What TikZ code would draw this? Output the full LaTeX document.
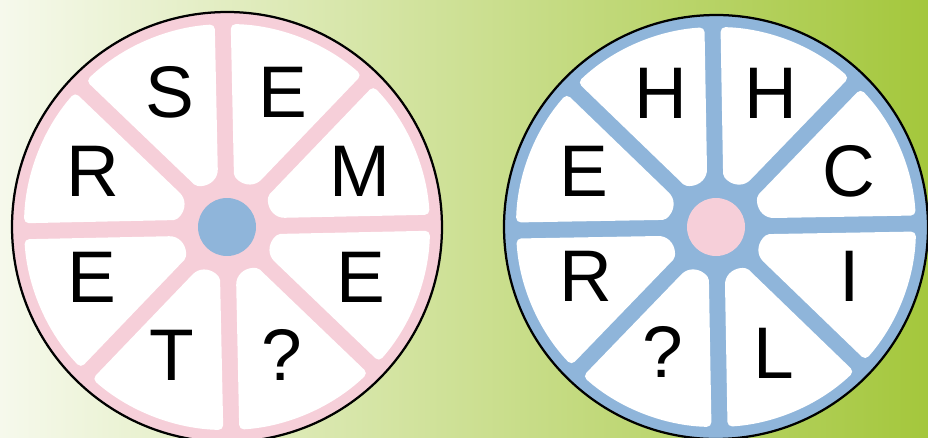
\documentclass[tikz,border=0pt]{standalone}
\usepackage{fontspec}
\setmainfont{Liberation Sans}
\usetikzlibrary{positioning}
\definecolor{wheelpink}{HTML}{F6CFD9}
\definecolor{wheelblue}{HTML}{8FB5DA}
\definecolor{bgleft}{HTML}{F6F9EC}
\definecolor{bgmid}{HTML}{D6E6A6}
\definecolor{bgright}{HTML}{A4C73C}
\tikzset{
    letter/.style={
        font=\fontsize{52}{52}\selectfont,
        inner sep=0pt,
        text=black
    },
    rim/.style={
        draw=black,
        line width=1.6pt
    },
    segment/.style={
        fill=white
    }
}

\begin{document}
\begin{tikzpicture}[x=0.025cm, y=0.025cm]
            % Background :
            \useasboundingbox (0,0) rectangle (928,437);
            \shade [left color=bgleft, middle color=bgmid, right color=bgright]
                (0,0) rectangle (928,437);

            % Left wheel
            \begin{scope}[shift={(227,210)}, rotate=1.2]
                \filldraw [rim, fill=wheelpink] (0,0) circle (215);
                \foreach \a in {0,45,...,315}
                    \fill [segment] (\a+7.87:58.5) [rounded corners=0.12cm] -- (\a+2.26:203)
                        arc [start angle=\a+2.26, end angle=\a+42.74, radius=203]
                        -- (\a+37.13:58.5) [sharp corners]
                        arc [start angle=\a+135, end angle=\a+270, radius=16] -- cycle;
                \fill [wheelblue] (0,0) circle (29);
            \end{scope}

            % Right wheel
            \begin{scope}[shift={(716,210)}, rotate=1]
                \filldraw [rim, fill=wheelblue] (0,0) circle (212);
                \foreach \a in {0,45,...,315}
                    \fill [segment] (\a+7.87:58.5) [rounded corners=0.12cm] -- (\a+2.3:200)
                        arc [start angle=\a+2.3, end angle=\a+42.7, radius=200]
                        -- (\a+37.13:58.5) [sharp corners]
                        arc [start angle=\a+135, end angle=\a+270, radius=16] -- cycle;
                \fill [wheelpink] (0,0) circle (29);
            \end{scope}

            % Letters, left
            \node (lS) [letter] at (170,345) {S};
            \node (lEtop) [letter] at (283,345) {E};
            \node (lR) [letter] at (93,266) {R};
            \node (lM) [letter] at (360,266) {M};
            \node (lEleft) [letter] at (92,160) {E};
            \node (lEright) [letter] at (361,160) {E};
            \node (lT) [letter] at (172,82) {T};
            \node (lQ) [letter] at (282,82) {?};

            % Letters, right
            \node (rHleft) [letter] at (661,344) {H};
            \node (rHright) [letter] at (771,344) {H};
            \node (rE) [letter] at (584,266) {E};
            \node (rC) [letter] at (849,266) {C};
            \node (rR) [letter] at (586,161) {R};
            \node (rI) [letter] at (850,161) {I};
            \node (rQ) [letter] at (663,85) {?};
            \node (rL) [letter] at (774,84) {L};
        \end{tikzpicture}
\end{document}
